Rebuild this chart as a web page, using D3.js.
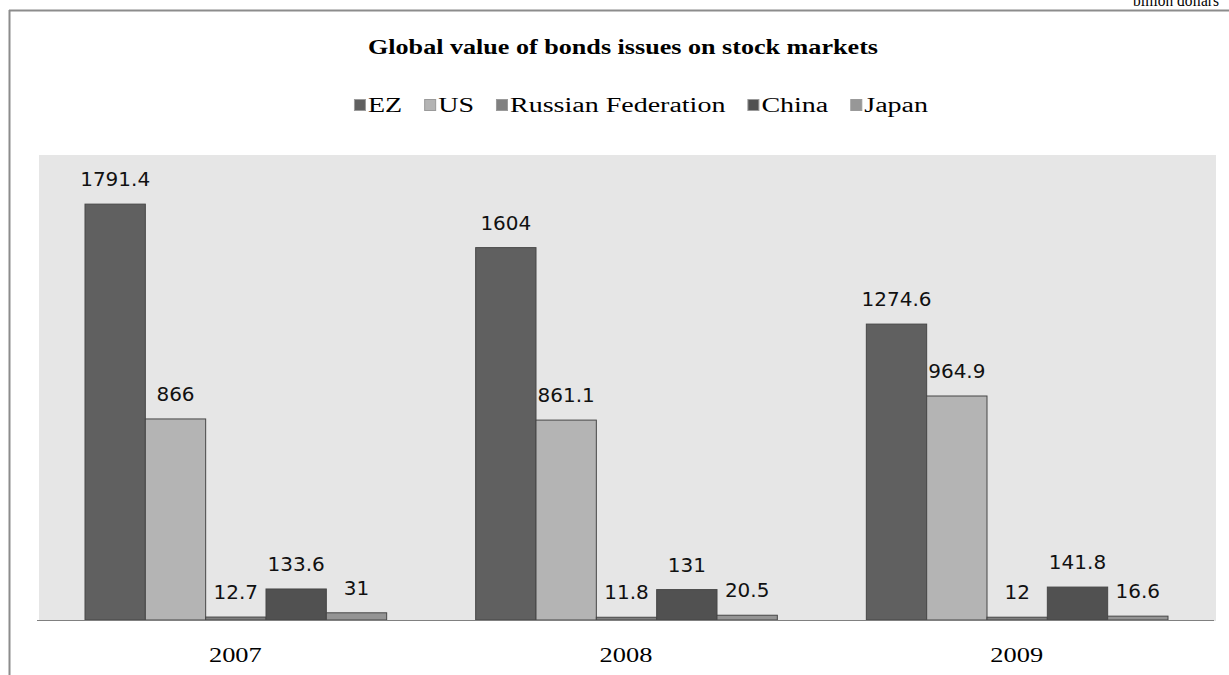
<!DOCTYPE html>
<html><head><meta charset="utf-8">
<script src="https://cdn.jsdelivr.net/npm/d3@7"></script>
<style>body{margin:0;background:#fff;}svg{display:block;}</style>
</head><body>
<script>
const years = ["2007", "2008", "2009"];
const seriesNames = ["EZ", "US", "Russian Federation", "China", "Japan"];
const EZ = [1791.4, 1604, 1274.6];
const US = [866, 861.1, 964.9];
const Russia = [12.7, 11.8, 12];
const China = [133.6, 131, 141.8];
const Japan = [31, 20.5, 16.6];
const seriesValues = [EZ, US, Russia, China, Japan];
const colors = ["#606060", "#b4b4b4", "#7e7e7e", "#515151", "#949494"];
const legendColors = ["#606060", "#b4b4b4", "#808080", "#515151", "#979797"];
const title = "Global value of bonds issues on stock markets";
const unitLabel = "billion dollars";

(function () {
const W = 1229, H = 675;
const svg = d3.select("body").append("svg").attr("width", W).attr("height", H);

function stretch(sel, factor) {
  sel.each(function () {
    const L = this.getComputedTextLength();
    d3.select(this).attr("textLength", L * factor).attr("lengthAdjust", "spacingAndGlyphs");
  });
  return sel;
}

// frame
svg.append("line").attr("x1", 9.5).attr("x2", 9.5).attr("y1", 10).attr("y2", H).attr("stroke", "#8c8c8c").attr("stroke-width", 2);
svg.append("line").attr("x1", 9).attr("x2", W).attr("y1", 10.5).attr("y2", 10.5).attr("stroke", "#8c8c8c").attr("stroke-width", 2);
const unit = svg.append("text").attr("x", 1219).attr("y", 6).attr("text-anchor", "end")
  .attr("font-family", "Liberation Serif").attr("font-size", 17).attr("fill", "#000").text(unitLabel);
unit.attr("textLength", 86).attr("lengthAdjust", "spacingAndGlyphs");

// plot area
const pLeft = 39, pRight = 1216, pTop = 155, pBottom = 620;
svg.append("rect").attr("x", pLeft).attr("y", pTop).attr("width", pRight - pLeft).attr("height", pBottom - pTop + 1).attr("fill", "#e6e6e6");

const x0 = d3.scaleBand().domain(years).range([40, 1212]).paddingInner(0).paddingOuter(0);
const x1 = d3.scaleBand().domain(seriesNames).range([45, x0.bandwidth() - 44]).padding(0);
const y = d3.scaleLinear().domain([0, 2003]).range([pBottom, pTop]);

const data = [];
years.forEach((yr, i) => seriesNames.forEach((s, j) => data.push({year: yr, series: s, value: seriesValues[j][i], color: colors[j]})));

const g = svg.append("g");
g.selectAll("rect.bar").data(data).enter().append("rect")
  .attr("class", "bar")
  .attr("x", d => x0(d.year) + x1(d.series))
  .attr("y", d => y(d.value))
  .attr("width", x1.bandwidth())
  .attr("height", d => y(0) - y(d.value))
  .attr("fill", d => d.color)
  .attr("stroke", "#474747").attr("stroke-width", 1);

g.selectAll("text.lbl").data(data).enter().append("text")
  .attr("class", "lbl")
  .attr("x", d => x0(d.year) + x1(d.series) + x1.bandwidth() / 2)
  .attr("y", d => y(d.value) - 18)
  .attr("text-anchor", "middle")
  .attr("font-family", "DejaVu Sans").attr("font-size", 20).attr("fill", "#111")
  .text(d => d.value);

// x axis
const xAxis = d3.axisBottom(x0).tickSize(0).tickPadding(26);
const ax = svg.append("g").attr("transform", `translate(0,${pBottom})`).call(xAxis);
ax.select(".domain").remove();
svg.append("line").attr("x1", 37).attr("x2", 1214).attr("y1", pBottom + 0.5).attr("y2", pBottom + 0.5).attr("stroke", "#808080");
stretch(ax.selectAll("text").attr("font-family", "Liberation Serif").attr("font-size", 22).attr("fill", "#000"), 1.2);

// title
const t = svg.append("text").attr("x", 623).attr("y", 54).attr("text-anchor", "middle")
  .attr("font-family", "Liberation Serif").attr("font-weight", "bold").attr("font-size", 20).attr("fill", "#000")
  .text(title);
t.attr("textLength", 510).attr("lengthAdjust", "spacingAndGlyphs");

// legend
const lg = svg.append("g");
const items = seriesNames.map((s, j) => {
  const it = lg.append("g");
  it.append("rect").attr("x", 0.5).attr("y", 99.5).attr("width", 11).attr("height", 11)
    .attr("fill", legendColors[j]).attr("stroke", "#9a9a9a").attr("stroke-width", 1);
  const tx = it.append("text").attr("x", 14).attr("y", 112)
    .attr("font-family", "Liberation Serif").attr("font-size", 20).attr("fill", "#000").text(s);
  stretch(tx, 1.4);
  return {g: it, w: 14 + +tx.attr("textLength")};
});
const gap = 22;
const total = d3.sum(items, d => d.w) + gap * (items.length - 1);
let cx = 641 - total / 2;
items.forEach(d => { d.g.attr("transform", `translate(${cx},0)`); cx += d.w + gap; });
})();
</script>
</body></html>
